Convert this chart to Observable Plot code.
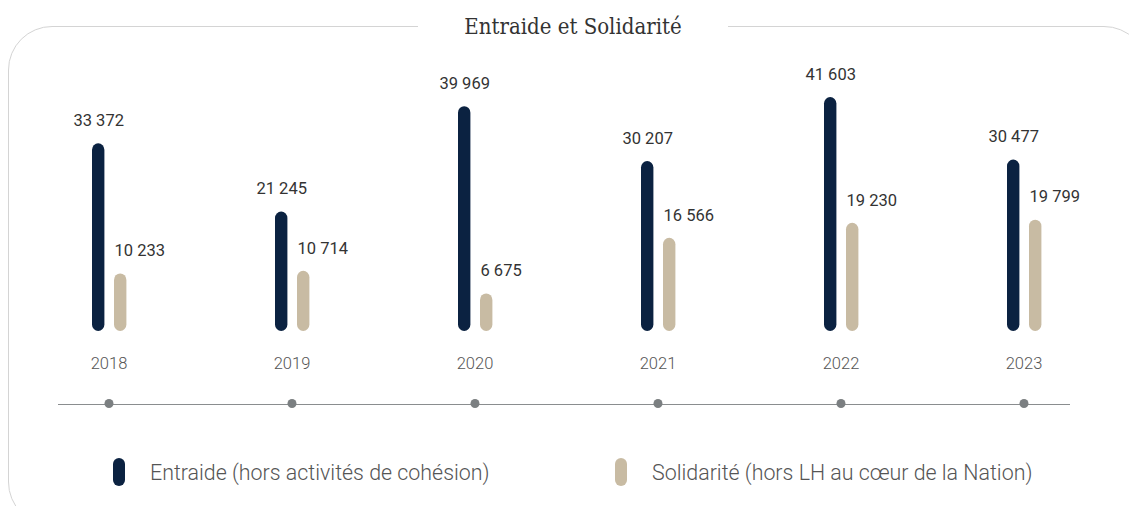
<!DOCTYPE html>
<html>
<head>
<meta charset="utf-8">
<script src="https://cdn.jsdelivr.net/npm/d3@7"></script>
<script src="https://cdn.jsdelivr.net/npm/@observablehq/plot@0.6"></script>
<style>
  html, body { margin: 0; padding: 0; background: #fff; }
  #wrap { position: relative; width: 1129px; height: 506px; overflow: hidden; }
  #frame { position: absolute; left: 8px; top: 26px; width: 1140px; height: 500px; border: 1px solid #d4d4d4; border-radius: 44px; box-sizing: border-box; }
  #title { position: absolute; left: 418px; width: 310px; top: 12px; height: 30px; line-height: 30px; background: #fff; text-align: center; font-family: "DejaVu Serif Condensed", "DejaVu Serif", serif; font-size: 22px; color: #333; }
  #chart { position: absolute; left: 0; top: 0; }
  .leg { position: absolute; top: 458px; height: 28px; display: flex; align-items: center; font-family: Roboto, sans-serif; font-weight: 300; font-size: 21.4px; color: #555; }
  .pill { width: 12px; height: 28px; border-radius: 6px; margin-right: 25px; }
</style>
</head>
<body>
<div id="wrap">
  <div id="frame"></div>
  <div id="title">Entraide et Solidarité</div>
  <div id="chart"></div>
  <div class="leg" style="left:113px"><div class="pill" style="background:#0b2241"></div>Entraide (hors activités de cohésion)</div>
  <div class="leg" style="left:615px"><div class="pill" style="background:#c8bba3"></div>Solidarité (hors LH au cœur de la Nation)</div>
</div>
<script>
const years = ["2018", "2019", "2020", "2021", "2022", "2023"];
const entraide = [33372, 21245, 39969, 30207, 41603, 30477];
const solidarite = [10233, 10714, 6675, 16566, 19230, 19799];

const colors = { entraide: "#0b2241", solidarite: "#c8bba3" };
const fmt = d3.formatLocale({ decimal: ",", thousands: " ", grouping: [3], currency: ["", "€"] }).format(",d");

const dataE = years.map((y, i) => ({ year: y, value: entraide[i] }));
const dataS = years.map((y, i) => ({ year: y, value: solidarite[i] }));

const band = 183.6;
const plot = Plot.plot({
  width: 1129,
  height: 506,
  marginTop: 0, marginLeft: 0, marginRight: 0, marginBottom: 176,
  x: { type: "band", domain: years, range: [15.5, 15.5 + band * 6], padding: 0, axis: null },
  y: { domain: [0, 41603], range: [331, 97], axis: null },
  marks: [
    Plot.barY(dataE, { x: "year", y: "value", fill: colors.entraide, rx: 6.5, insetLeft: 75, insetRight: band - 88 }),
    Plot.barY(dataS, { x: "year", y: "value", fill: colors.solidarite, rx: 6.5, insetLeft: 97, insetRight: band - 110 }),
    Plot.text(dataE, { x: "year", y: "value", text: d => fmt(d.value), dx: -10.3, dy: -23, fontSize: 16.5, fontWeight: 400, fill: "#333", fontFamily: "Roboto" }),
    Plot.text(dataS, { x: "year", y: "value", text: d => fmt(d.value), dx: 5.5, dy: -23, textAnchor: "start", fontSize: 16.5, fontWeight: 400, fill: "#333", fontFamily: "Roboto" }),
    Plot.text(years, { x: d => d, frameAnchor: "bottom", dy: 38, text: d => d, fontSize: 16.5, fontWeight: 300, fill: "#555", fontFamily: "Roboto" }),
    Plot.ruleY([0], { dy: 73, insetLeft: 58, insetRight: 59, stroke: "#8a8d8f", strokeWidth: 1.2 }),
    Plot.dot(years, { x: d => d, frameAnchor: "bottom", dy: 73, r: 4.5, fill: "#7b7f81" })
  ]
});
plot.style.fontFamily = "Roboto";
document.getElementById("chart").appendChild(plot);
</script>
</body>
</html>
